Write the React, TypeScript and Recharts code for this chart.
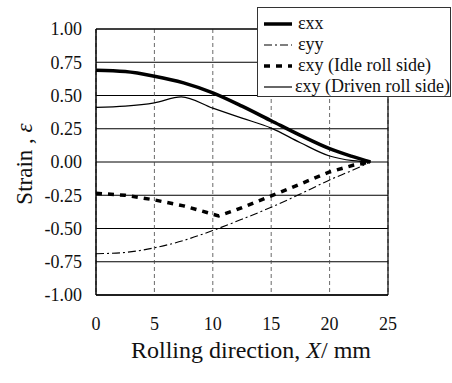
import { LineChart, Line, XAxis, YAxis, CartesianGrid, ReferenceLine, Legend } from 'recharts';

const FONT = 'Liberation Serif, Tinos, Times, DejaVu Serif, serif';

const xTicks = [0, 5, 10, 15, 20, 25];
const yTicks = [-1, -0.75, -0.5, -0.25, 0, 0.25, 0.5, 0.75, 1];

const exxX = [0, 2.5, 5, 7.5, 10, 12.5, 15, 17.5, 20, 22, 23.5];
const exxY = [0.69, 0.68, 0.645, 0.595, 0.52, 0.42, 0.31, 0.2, 0.1, 0.04, 0];

const eyyX = [0, 2.5, 5, 7.5, 10, 12.5, 15, 17.5, 20, 22, 23.5];
const eyyY = [-0.69, -0.68, -0.645, -0.59, -0.515, -0.43, -0.34, -0.24, -0.135, -0.06, 0];

const idleX = [0, 2.5, 5, 7.5, 9.5, 10.5, 12, 15, 17.5, 20, 22, 23.5];
const idleY = [-0.235, -0.25, -0.285, -0.33, -0.38, -0.405, -0.36, -0.255, -0.165, -0.075, -0.025, 0];

const drivenX = [0, 2.5, 5, 7.3, 10, 12.5, 15, 17.5, 20, 22, 23.5];
const drivenY = [0.41, 0.42, 0.445, 0.49, 0.405, 0.33, 0.255, 0.145, 0.045, 0.01, 0];

const zip = (xs: number[], ys: number[]) => xs.map((x, i) => ({ x, y: ys[i] }));

const series = [
  { name: 'εxx', data: zip(exxX, exxY), width: 3.5, dash: undefined, type: 'monotone' },
  { name: 'εyy', data: zip(eyyX, eyyY), width: 1.1, dash: '8 3 2 3', type: 'monotone' },
  { name: 'εxy (Idle roll side)', data: zip(idleX, idleY), width: 3.5, dash: '6 6', type: 'linear' },
  { name: 'εxy (Driven roll side)', data: zip(drivenX, drivenY), width: 1.2, dash: undefined, type: 'monotone' },
];

function LegendBox() {
  return (
    <div
      style={{
        width: 194,
        height: 90,
        boxSizing: 'border-box',
        border: '1px solid #333',
        background: '#fff',
        paddingTop: 5,
        fontFamily: FONT,
        fontSize: 18,
        color: '#111',
      }}
    >
      {series.map((s) => (
        <div key={s.name} style={{ display: 'flex', alignItems: 'center', height: 21, whiteSpace: 'nowrap' }}>
          <svg width={36} height={10} style={{ marginLeft: 4 }}>
            <line x1={2} y1={5} x2={30} y2={5} stroke="#000" strokeWidth={s.width} strokeDasharray={s.dash} />
          </svg>
          <span>{s.name}</span>
        </div>
      ))}
    </div>
  );
}

export default function App() {
  return (
    <div style={{ position: 'absolute', left: 0, top: 0, background: '#fff', fontFamily: FONT }}>
      <LineChart width={452} height={383} margin={{ top: 29, right: 64, left: 0, bottom: 0 }}>
        <CartesianGrid horizontal={true} vertical={false} stroke="#000" strokeWidth={1} />
        <CartesianGrid horizontal={false} vertical={true} stroke="#444" strokeDasharray="4 3" strokeWidth={0.8} />
        <XAxis
          type="number"
          dataKey="x"
          domain={[0, 25]}
          ticks={xTicks}
          height={88}
          tickSize={0}
          tickMargin={22}
          axisLine={{ stroke: '#000', strokeWidth: 1.5 }}
          tick={{ fill: '#111', fontSize: 18, fontFamily: FONT }}
          label={{
            content: (props: any) => {
              const vb = props.viewBox || { x: 96, y: 295, width: 292 };
              return (
                <text x={vb.x + vb.width / 2 + 9} y={vb.y + 63} textAnchor="middle" fontFamily={FONT} fontSize={24} fill="#111">
                  <tspan>Rolling direction, </tspan>
                  <tspan fontStyle="italic">X</tspan>
                  <tspan>/ mm</tspan>
                </text>
              );
            },
          }}
        />
        <YAxis
          type="number"
          domain={[-1, 1]}
          ticks={yTicks}
          width={96}
          tickSize={0}
          tickMargin={14}
          axisLine={{ stroke: '#000', strokeWidth: 1.5 }}
          tickFormatter={(v: number) => v.toFixed(2)}
          tick={{ fill: '#111', fontSize: 18, fontFamily: FONT }}
          label={{
            content: () => (
              <text
                x={24}
                y={164}
                transform="rotate(-90, 24, 164)"
                textAnchor="middle"
                dominantBaseline="central"
                fontFamily={FONT}
                fontSize={23}
                fill="#111"
              >
                <tspan>Strain , </tspan>
                <tspan fontStyle="italic">ε</tspan>
              </text>
            ),
          }}
        />
        <ReferenceLine x={25} stroke="#000" strokeWidth={1.2} />
        <ReferenceLine y={1} stroke="#000" strokeWidth={1.2} />
        {series.map((s) => (
          <Line
            key={s.name}
            data={s.data}
            dataKey="y"
            name={s.name}
            type={s.type as any}
            stroke="#000"
            strokeWidth={s.width}
            strokeDasharray={s.dash}
            dot={false}
            isAnimationActive={false}
          />
        ))}
        <Legend
          layout="vertical"
          align="center"
          verticalAlign="middle"
          wrapperStyle={{ left: 257, top: 7, width: 194, height: 90 }}
          content={() => <LegendBox />}
        />
      </LineChart>
    </div>
  );
}
